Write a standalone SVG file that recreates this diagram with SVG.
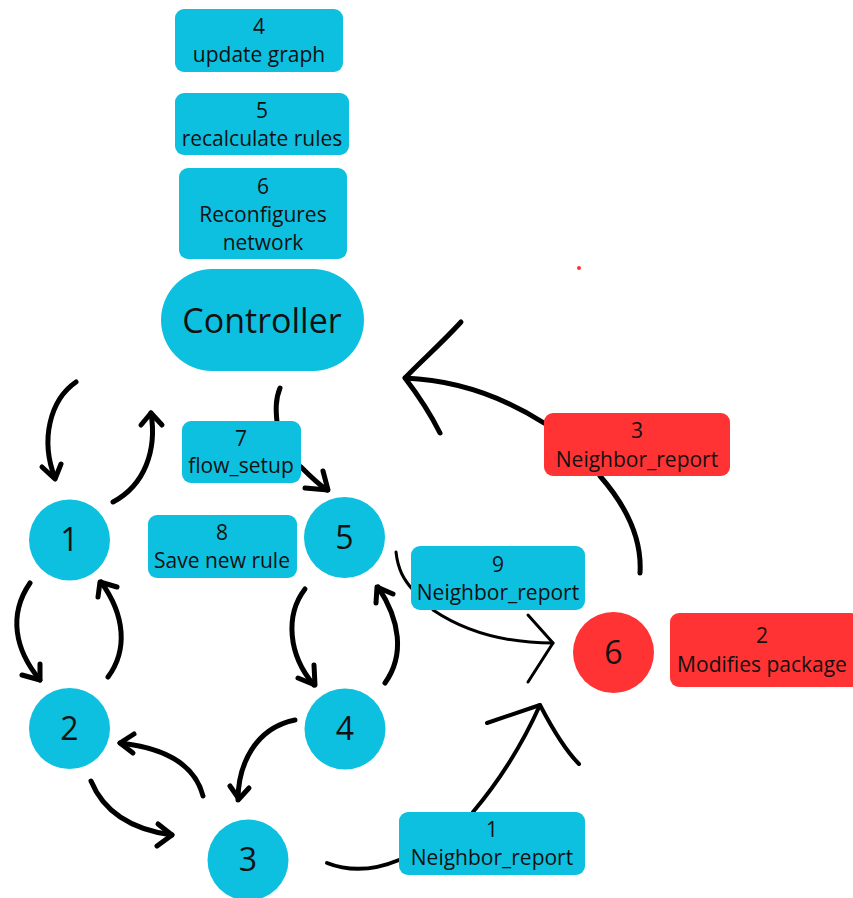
<svg xmlns="http://www.w3.org/2000/svg" width="853" height="898" viewBox="0 0 853 898">
<style>
.b{fill:#0DC0DF}
.r{fill:#FF3333}
text{font-family:"Open Sans","Noto Sans",sans-serif;fill:#111;text-anchor:middle}
.t{font-size:21px}
.n{font-size:32px}
.c{font-size:34px}
.w{fill:none;stroke:#000;stroke-linecap:round;stroke-linejoin:round}
.k{stroke-width:5}
.m{stroke-width:4}
.s{stroke-width:3}
</style>
<rect width="853" height="898" fill="#fff"/>
<g id="connectors">
<path class="w k" d="M76,382 C50,400 40,440 55,478"/>
<path class="w k" d="M42,467 L55,479 L61,464"/>
<path class="w k" d="M113,502 C145,485 157,450 151,413"/>
<path class="w k" d="M141,425 L151,413 L162,425"/>
<path class="w k" d="M280,388 C275,400 276,412 277,422"/>
<path class="w k" d="M301,467 C310,476 318,484 327,490"/>
<path class="w k" d="M305,488 L328,490 L323,471"/>
<path class="w k" d="M30,583 C8,615 15,650 40,680"/>
<path class="w k" d="M22,675 L40,680 L40,664"/>
<path class="w k" d="M108,677 C128,650 125,615 101,582"/>
<path class="w k" d="M98,597 L100,582 L117,587"/>
<path class="w k" d="M203,796 C195,765 165,748 120,743"/>
<path class="w k" d="M134,734 L120,743 L133,753"/>
<path class="w k" d="M91,781 C105,815 135,830 172,835"/>
<path class="w k" d="M158,824 L172,835 L157,846"/>
<path class="w k" d="M295,720 C255,728 238,765 238,800"/>
<path class="w k" d="M230,786 L239,799 L249,788"/>
<path class="w k" d="M305,589 C285,615 288,655 314,685"/>
<path class="w k" d="M298,678 L315,685 L314,665"/>
<path class="w k" d="M385,683 C405,655 400,620 378,587"/>
<path class="w k" d="M376,603 L377,587 L393,594"/>
<path class="w s" d="M396,552 C398,570 404,580 413,590"/>
<path class="w s" d="M433,610 C470,635 510,643 553,643"/>
<path class="w s" d="M528,615 L553,643 L528,682"/>
<path class="w m" d="M327,863 C350,872 375,870 399,860"/>
<path class="w m" d="M473,812 C500,780 522,745 540,705"/>
<path class="w m" d="M487,723 L540,705 C553,730 565,750 579,764"/>
<path class="w k" d="M640,573 C642,540 628,508 600,476"/>
<path class="w k" d="M544,423 C500,395 455,380 405,378"/>
<path class="w k" d="M461,322 C440,345 420,362 405,378 C418,395 430,413 440,433"/>
</g>
<g id="box4"><rect class="b" x="175" y="9" width="168" height="63" rx="9"/><text class="t" x="259" y="34">4</text><text class="t" x="259" y="62">update graph</text></g>
<g id="box5"><rect class="b" x="175" y="93" width="174" height="62" rx="9"/><text class="t" x="262" y="118">5</text><text class="t" x="262" y="146">recalculate rules</text></g>
<g id="box6"><rect class="b" x="179" y="168" width="168" height="91" rx="9"/><text class="t" x="263" y="194">6</text><text class="t" x="263" y="222">Reconfigures</text><text class="t" x="263" y="250">network</text></g>
<g id="controller"><rect class="b" x="161" y="269" width="203" height="102" rx="51"/><text class="c" x="262" y="333">Controller</text></g>
<g id="box7"><rect class="b" x="182" y="421" width="119" height="62" rx="9"/><text class="t" x="241" y="446">7</text><text class="t" x="241" y="473">flow_setup</text></g>
<g id="box8"><rect class="b" x="148" y="515" width="149" height="63" rx="9"/><text class="t" x="222" y="540">8</text><text class="t" x="222" y="568">Save new rule</text></g>
<g id="box9"><rect class="b" x="411" y="546" width="174" height="64" rx="9"/><text class="t" x="498" y="572">9</text><text class="t" x="498" y="600">Neighbor_report</text></g>
<g id="box3r"><rect class="r" x="544" y="413" width="186" height="63" rx="9"/><text class="t" x="637" y="438">3</text><text class="t" x="637" y="467">Neighbor_report</text></g>
<g id="box2r"><rect class="r" x="670" y="613" width="190" height="74" rx="9"/><text class="t" x="762" y="643">2</text><text class="t" x="762" y="672">Modifies package</text></g>
<g id="box1"><rect class="b" x="399" y="812" width="186" height="63" rx="9"/><text class="t" x="492" y="837">1</text><text class="t" x="492" y="865">Neighbor_report</text></g>
<g id="node1"><circle class="b" cx="69.5" cy="540" r="40.5"/><text class="n" x="69.5" y="551">1</text></g>
<g id="node2"><circle class="b" cx="69.5" cy="728.5" r="40.5"/><text class="n" x="69.5" y="740">2</text></g>
<g id="node3"><circle class="b" cx="248" cy="860" r="40.5"/><text class="n" x="248" y="871">3</text></g>
<g id="node4"><circle class="b" cx="345" cy="729" r="40.5"/><text class="n" x="345" y="740">4</text></g>
<g id="node5"><circle class="b" cx="344.5" cy="537.5" r="40.5"/><text class="n" x="344.5" y="549">5</text></g>
<g id="node6"><circle class="r" cx="613.5" cy="652.5" r="40.5"/><text class="n" x="613.5" y="664">6</text></g>
<circle class="r" cx="579" cy="268" r="2"/>
</svg>
